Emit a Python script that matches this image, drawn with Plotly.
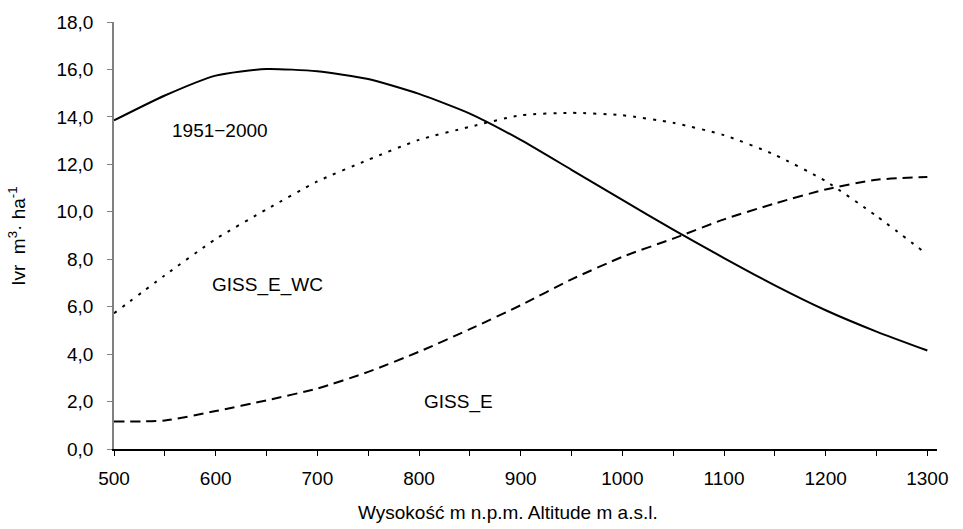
import plotly.graph_objects as go

altitude = [500, 550, 600, 650, 700, 750, 800, 850, 900, 950, 1000, 1050, 1100, 1150, 1200, 1250, 1300]
ivr_1951_2000 = [13.85, 14.9, 15.74, 16.02, 15.92, 15.6, 14.97, 14.14, 13.03, 11.77, 10.5, 9.25, 8.05, 6.9, 5.85, 4.95, 4.15]
ivr_giss_e_wc = [5.72, 7.32, 8.85, 10.1, 11.28, 12.19, 13.03, 13.58, 14.07, 14.17, 14.07, 13.75, 13.23, 12.4, 11.29, 9.82, 8.2]
ivr_giss_e = [1.16, 1.2, 1.6, 2.05, 2.55, 3.25, 4.1, 5.05, 6.06, 7.15, 8.1, 8.87, 9.68, 10.35, 10.94, 11.35, 11.47]

series_names = ["1951−2000", "GISS_E_WC", "GISS_E"]
label_x = [604, 651, 839]
label_y = [13.43, 6.9, 2.0]

FONT = "Liberation Sans, Arial, sans-serif"

fig = go.Figure()
fig.add_trace(go.Scatter(x=altitude, y=ivr_1951_2000, mode="lines", name=series_names[0],
                         line=dict(color="black", width=2, shape="spline", smoothing=0.6)))
fig.add_trace(go.Scatter(x=altitude, y=ivr_giss_e_wc, mode="lines", name=series_names[1],
                         line=dict(color="black", width=2, dash="3px,7px", shape="spline", smoothing=0.6)))
fig.add_trace(go.Scatter(x=altitude, y=ivr_giss_e, mode="lines", name=series_names[2],
                         line=dict(color="black", width=2, dash="10px,6px", shape="spline", smoothing=0.6)))

for name, lx, ly in zip(series_names, label_x, label_y):
    fig.add_annotation(x=lx, y=ly, text=name, showarrow=False, xanchor="center", yanchor="middle",
                       font=dict(family=FONT, size=19, color="black"))

fig.add_annotation(xref="paper", yref="paper", x=(17 - 114) / 823.5, y=0.497,
                   text="Ivr  m<sup>3</sup>· ha<sup>-1</sup>", textangle=-90, showarrow=False,
                   xanchor="center", yanchor="middle", font=dict(family=FONT, size=19, color="black"))
fig.add_annotation(xref="paper", yref="paper", x=(508 - 114) / 823.5, y=(448.8 - 513) / 431.5,
                   text="Wysokość m n.p.m. Altitude m a.s.l.", showarrow=False,
                   xanchor="center", yanchor="middle", font=dict(family=FONT, size=19, color="black"))

fig.update_layout(
    width=963, height=529,
    margin=dict(l=114, r=25.5, t=17.3, b=80.2),
    paper_bgcolor="white", plot_bgcolor="white",
    showlegend=False,
    separators=", ",
    font=dict(family=FONT, size=19, color="black"),
)
fig.update_xaxes(
    range=[500, 1309.5], tickmode="linear", tick0=500, dtick=100,
    showgrid=False, zeroline=False, showline=True, linecolor="black", linewidth=1.5,
    ticks="outside", ticklen=5, tickcolor="black", tickwidth=1,
    ticklabelstandoff=6,
    minor=dict(tickmode="linear", tick0=500, dtick=50, ticks="outside", ticklen=5, tickcolor="black", showgrid=False),
    tickfont=dict(family=FONT, size=19, color="black"),
)
fig.update_yaxes(
    range=[0, 18], tickmode="linear", tick0=0, dtick=2, tickformat=".1f",
    showgrid=False, zeroline=False, showline=True, linecolor="#808080", linewidth=1.5,
    ticks="outside", ticklen=5, tickcolor="#808080", tickwidth=1,
    ticklabelstandoff=10,
    tickfont=dict(family=FONT, size=19, color="black"),
)

fig.write_html("out.html")
